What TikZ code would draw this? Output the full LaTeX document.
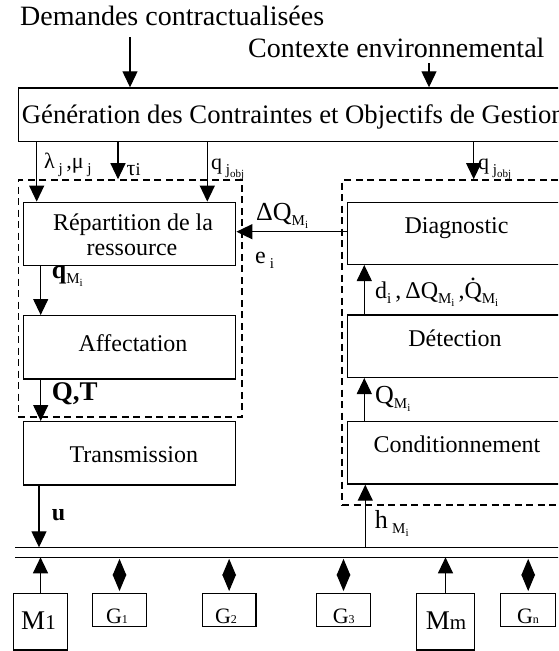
\documentclass[tikz,border=0pt]{standalone}
\usepackage{fontspec}
\setmainfont{Liberation Serif}
\usetikzlibrary{arrows.meta}

% font size shortcut, subscripts and the dotted Q
\newcommand\fs[1]{\fontsize{#1}{#1}\selectfont}
\newcommand\Sb[1]{\raisebox{-5pt}{\fs{15}#1}}
\newcommand\Ssb[1]{\raisebox{-3pt}{\fs{11}#1}}
\newcommand\Mi{\Sb{M\Ssb{i}}}
\newcommand\Qdot{\ooalign{\hfil\raisebox{.72em}{.}\hfil\cr Q\cr}}

\begin{document}
\begin{tikzpicture}[x=1pt,y=-1pt,
  box/.style={draw, line width=1.4pt, inner sep=0pt, rectangle},
  dbox/.style={draw, line width=1.6pt, dash pattern=on 7pt off 4.5pt, inner sep=0pt, rectangle},
  arr/.style={line width=1.2pt, -{Triangle[length=16pt,width=15pt]}},
  twoway/.style={line width=1.2pt, {Triangle[length=16.5pt,width=13.5pt]}-{Triangle[length=16.5pt,width=13.5pt]},
                 shorten <=1.5pt, shorten >=1.5pt},
  txt/.style={inner sep=0pt, anchor=base},
  lbl/.style={inner sep=0pt, anchor=base west},
  bus/.style={line width=1.3pt}]

\clip (0,0) rectangle (558,651);

% ---- upper inputs and generation block
\node[lbl, font=\fs{28}] (dem) at (20,25.7) {Demandes contractualisées};
\node[lbl, font=\fs{28}] (ctx) at (248,57) {Contexte environnemental};
\node[box, minimum width=581.7pt, minimum height=53.7pt] (gen) at (309.15,114.85) {};
\node[lbl, font=\fs{26.7}] (gentxt) at (21.7,123) {Génération des Contraintes et Objectifs de Gestion};

% ---- dashed groups
\node[dbox, minimum width=223.4pt, minimum height=236.7pt] (ldash) at (130,298.35) {};
\node[dbox, minimum width=233pt, minimum height=325pt] (rdash) at (458.5,342.5) {};

% ---- left chain
\node[box, minimum width=212.4pt, minimum height=63.4pt] (rep) at (129.5,234) {};
\node[txt, font=\fs{24}] (reptxt1) at (133,230) {Répartition de la};
\node[txt, font=\fs{24}] (reptxt2) at (132,255) {ressource};
\node[box, minimum width=212.4pt, minimum height=63.3pt] (aff) at (129.5,347.35) {};
\node[txt, font=\fs{24}] (afftxt) at (133,351) {Affectation};
\node[box, minimum width=212.4pt, minimum height=63.3pt] (tra) at (129.5,453.35) {};
\node[txt, font=\fs{24}] (tratxt) at (133.8,462.3) {Transmission};

% ---- right chain
\node[box, minimum width=218.3pt, minimum height=62pt] (dia) at (456.85,233.3) {};
\node[txt, font=\fs{24}] (diatxt) at (456.5,233) {Diagnostic};
\node[box, minimum width=218.3pt, minimum height=62.3pt] (det) at (456.85,346.15) {};
\node[txt, font=\fs{24}] (dettxt) at (455,346) {Détection};
\node[box, minimum width=218.3pt, minimum height=62.3pt] (con) at (456.85,452.85) {};
\node[txt, font=\fs{24}] (contxt) at (457,452.3) {Conditionnement};

% ---- bus
\coordinate (busTL) at (15,547.3);
\coordinate (busTR) at (600,547.3);
\coordinate (busBL) at (15,557.3);
\coordinate (busBR) at (600,557.3);
\draw[bus] (busTL) -- (busTR);
\draw[bus] (busBL) -- (busBR);

% ---- machines and generators
\node[box, minimum width=54.4pt, minimum height=56.7pt] (m1) at (40.5,621.65) {};
\node[box, minimum width=54.4pt, minimum height=33.4pt] (g1) at (119.5,610) {};
\node[box, minimum width=53.7pt, minimum height=33.4pt] (g2) at (229.15,610) {};
\node[box, minimum width=54.4pt, minimum height=33.4pt] (g3) at (343.5,610) {};
\node[box, minimum width=58.4pt, minimum height=56.7pt] (mm) at (445.5,621.65) {};
\node[box, minimum width=55pt, minimum height=33.4pt] (gn) at (528.2,610) {};
\node[txt] (m1txt) at (38.5,629) {\fs{27}M\fs{21}1};
\node[txt] (g1txt) at (117,623.5) {\fs{22}G\fs{12}1};
\node[txt] (g2txt) at (226,623.5) {\fs{22}G\fs{12}2};
\node[txt] (g3txt) at (343.8,623.5) {\fs{22}G\fs{12}3};
\node[txt] (mmtxt) at (446,629) {\fs{27}M\fs{21}m};
\node[txt] (gntxt) at (528,623.5) {\fs{22}G\fs{12}n};

% ---- x positions of the vertical links
\coordinate (xdem) at (130,37);
\coordinate (xctx) at (429,63);
\coordinate (xlam) at (36.7,0);
\coordinate (xtau) at (118,0);
\coordinate (xqo) at (207.3,0);
\coordinate (xqr) at (473.7,0);
\coordinate (xqm) at (40.7,0);
\coordinate (xu) at (39,0);
\coordinate (xd) at (364.3,0);
\coordinate (xh) at (365.3,0);

% ---- links
\draw[arr] (xdem) -- (xdem |- gen.north);
\draw[arr] (xctx) -- (xctx |- gen.north);
\draw[arr] (xlam |- gen.south) -- (xlam |- rep.north);
\draw[arr] (xtau |- gen.south) -- (xtau |- ldash.north);
\draw[arr] (xqo |- gen.south) -- (xqo |- rep.north);
\draw[arr] (xqr |- gen.south) -- (xqr |- rdash.north);
\draw[arr] (xqm |- rep.south) -- (xqm |- aff.north);
\draw[arr] (xqm |- aff.south) -- (xqm |- tra.north);
\draw[arr] (xu |- tra.south) -- (xu |- busTL);
\coordinate (fb) at (0,231.7);
\draw[arr] (fb -| dia.west) -- (fb -| rep.east);
\draw[arr] (xd |- det.north) -- (xd |- dia.south);
\draw[arr] (xd |- con.north) -- (xd |- det.south);
\draw[arr] (xh |- busTL) -- (xh |- con.south);
\draw[arr] (m1.north) -- (m1.north |- busBL);
\draw[arr] (mm.north) -- (mm.north |- busBL);
\draw[twoway] (g1.north |- busBL) -- (g1.north);
\draw[twoway] (g2.north |- busBL) -- (g2.north);
\draw[twoway] (g3.north |- busBL) -- (g3.north);
\draw[twoway] (gn.north |- busBL) -- (gn.north);

% ---- link labels
\node[lbl] (llam) at (44,168) {\fs{22}λ\,\Sb{j}\,,μ\,\Sb{j}};
\node[lbl] (ltau) at (126.5,175) {\fs{22}τ\fs{18}i};
\node[lbl] (lqo) at (211,169) {\fs{22}q\,\Sb{j\Ssb{obj}}};
\node[lbl] (lqr) at (478,169) {\fs{22}q\,\Sb{j\Ssb{obj}}};
\node[lbl] (ldq) at (256,220) {\fs{26}ΔQ\Mi};
\node[lbl] (lei) at (255,263) {\fs{24}e\,\Sb{i}};
\node[lbl] (lqm) at (51.7,278) {{\fs{26}\bfseries q}\Mi};
\node[lbl] (lqt) at (51.7,400) {\fs{27}\bfseries Q,T};
\node[lbl] (lu) at (51.7,520) {\fs{24}\bfseries u};
\node[lbl] (ld) at (375,298) {\fs{24}d\Sb{i}\,,\,ΔQ\Mi\,,\Qdot\Mi};
\node[lbl] (lq) at (375,403) {\fs{26}Q\Mi};
\node[lbl] (lh) at (374.7,528.3) {\fs{26}h\,\Mi};
\end{tikzpicture}
\end{document}
